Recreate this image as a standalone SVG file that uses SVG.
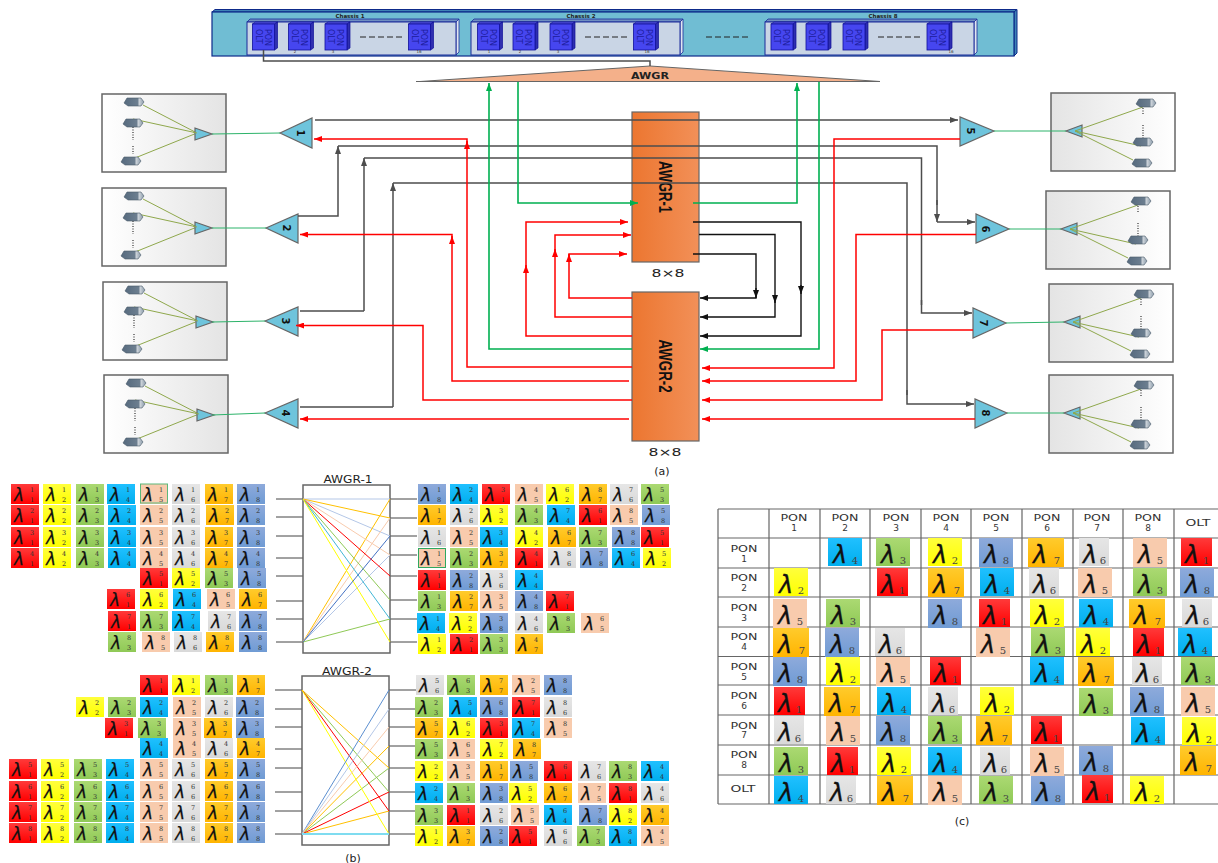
<svg xmlns="http://www.w3.org/2000/svg" width="1218" height="863" viewBox="0 0 1218 863">
<style>
svg{background:#fff}
text{font-family:"DejaVu Sans","Liberation Sans",sans-serif}
.f1{fill:url(#g1)}.f2{fill:url(#g2)}.f3{fill:url(#g3)}.f4{fill:url(#g4)}.f5{fill:#f8cbad}.f6{fill:url(#g6)}.f7{fill:url(#g7)}.f8{fill:url(#g8)}
.la{font-family:"DejaVu Sans",sans-serif;font-style:oblique;font-size:17px;fill:#111;stroke:#111;stroke-width:.25}
.lb{font-family:"DejaVu Sans",sans-serif;font-style:oblique;font-size:24px;fill:#111;stroke:#111;stroke-width:.3}
.cells text{font-family:"DejaVu Serif",serif;font-size:6.5px;text-anchor:middle;fill:#333}
.tb text{font-size:9px;text-anchor:middle;fill:#333}
.tb .s{font-family:"DejaVu Serif",serif;font-size:10px;fill:#444}
.gr,.re,.bk,.gn,.tl{fill:none}
.gr{stroke:#4d4d4d;stroke-width:1.5}
.re{stroke:#f00;stroke-width:1.5}
.bk{stroke:#111;stroke-width:1.4}
.gn{stroke:#00b050;stroke-width:1.6}
.tl{stroke:#2db36a;stroke-width:1}
.tri{fill:#6ec4dc;stroke:#666;stroke-width:1.2}
.awg{fill:url(#og);stroke:#666;stroke-width:1.2}
.cap{font-size:11px;text-anchor:middle;fill:#222}
.tnum{font-size:10px;font-weight:bold;text-anchor:middle;fill:#111}
.blab{font-family:"Liberation Sans",sans-serif;font-size:19px;font-weight:bold;text-anchor:middle;fill:#111}
.stub{stroke:#444;stroke-width:1;fill:none}
.rt{fill:#fff;stroke:#666;stroke-width:1.5}
.rl{fill:none;stroke-width:1}
.sm{font-size:4px;text-anchor:middle;fill:#333}
.ch{font-size:5.5px;font-weight:bold;text-anchor:middle;fill:#222}
.da{stroke:#222;stroke-width:1;stroke-dasharray:6 3}
</style>
<defs>
<linearGradient id="g1" x2="0" y2="1"><stop offset="0" stop-color="#ff3a3a"/><stop offset="1" stop-color="#f00"/></linearGradient>
<linearGradient id="g2" x2="0" y2="1"><stop offset="0" stop-color="#ffff3c"/><stop offset="1" stop-color="#ff0"/></linearGradient>
<linearGradient id="g3" x2="0" y2="1"><stop offset="0" stop-color="#abd972"/><stop offset="1" stop-color="#8fc956"/></linearGradient>
<linearGradient id="g4" x2="0" y2="1"><stop offset="0" stop-color="#20c0ff"/><stop offset="1" stop-color="#00aeee"/></linearGradient>
<linearGradient id="g6" x2="0" y2="1"><stop offset="0" stop-color="#e6e6e6"/><stop offset="1" stop-color="#d9d9d9"/></linearGradient>
<linearGradient id="g7" x2="0" y2="1"><stop offset="0" stop-color="#ffcb2c"/><stop offset="1" stop-color="#ffb400"/></linearGradient>
<linearGradient id="g8" x2="0" y2="1"><stop offset="0" stop-color="#8eaadb"/><stop offset="1" stop-color="#6f9bd4"/></linearGradient>
<linearGradient id="og"><stop offset="0" stop-color="#ec7630"/><stop offset="1" stop-color="#f29058"/></linearGradient>
<linearGradient id="bl"><stop offset="0" stop-color="#fff"/><stop offset="1" stop-color="#e4e4e4"/></linearGradient>
<linearGradient id="br"><stop offset="0" stop-color="#e4e4e4"/><stop offset="1" stop-color="#fff"/></linearGradient>
<linearGradient id="on"><stop offset="0" stop-color="#566a7e"/><stop offset=".7" stop-color="#6d7f90"/><stop offset=".75" stop-color="#d0d6dc"/><stop offset="1" stop-color="#8899a8"/></linearGradient>
<marker id="mr" viewBox="0 0 8 6" refX="8" refY="3" markerWidth="8" markerHeight="6" orient="auto" markerUnits="userSpaceOnUse"><path d="M0 0L8 3L0 6z" fill="#f00"/></marker>
<marker id="mg" viewBox="0 0 8 6" refX="8" refY="3" markerWidth="8" markerHeight="6.500" orient="auto" markerUnits="userSpaceOnUse"><path d="M0 0L8 3L0 6z" fill="#4d4d4d"/></marker>
<marker id="mk" viewBox="0 0 8 6" refX="8" refY="3" markerWidth="8" markerHeight="6.500" orient="auto" markerUnits="userSpaceOnUse"><path d="M0 0L8 3L0 6z" fill="#111"/></marker>
<marker id="mn" viewBox="0 0 8 6" refX="8" refY="3" markerWidth="8" markerHeight="6.500" orient="auto" markerUnits="userSpaceOnUse"><path d="M0 0L8 3L0 6z" fill="#00b050"/></marker>
<g id="k1"><rect class="f1" width="28" height="20"/><text class="la" x="3" y="17">λ</text></g>
<g id="k2"><rect class="f2" width="28" height="20"/><text class="la" x="3" y="17">λ</text></g>
<g id="k3"><rect class="f3" width="28" height="20"/><text class="la" x="3" y="17">λ</text></g>
<g id="k4"><rect class="f4" width="28" height="20"/><text class="la" x="3" y="17">λ</text></g>
<g id="k5"><rect class="f5" width="28" height="20"/><text class="la" x="3" y="17">λ</text></g>
<g id="k6"><rect class="f6" width="28" height="20"/><text class="la" x="3" y="17">λ</text></g>
<g id="k7"><rect class="f7" width="28" height="20"/><text class="la" x="3" y="17">λ</text></g>
<g id="k8"><rect class="f8" width="28" height="20"/><text class="la" x="3" y="17">λ</text></g>
<g id="t1"><rect class="f1" width="31" height="28"/><text class="lb" x="4" y="25">λ</text></g>
<g id="t2"><rect class="f2" width="34" height="28"/><text class="lb" x="5" y="25">λ</text></g>
<g id="t3"><rect class="f3" width="34" height="28"/><text class="lb" x="5" y="25">λ</text></g>
<g id="t4"><rect class="f4" width="34" height="28"/><text class="lb" x="5" y="25">λ</text></g>
<g id="t5"><rect class="f5" width="34" height="29"/><text class="lb" x="5" y="25">λ</text></g>
<g id="t6"><rect class="f6" width="30" height="28"/><text class="lb" x="4" y="25">λ</text></g>
<g id="t7"><rect class="f7" width="36" height="29"/><text class="lb" x="5" y="25">λ</text></g>
<g id="t8"><rect class="f8" width="34" height="29"/><text class="lb" x="5" y="25">λ</text></g>
<g id="onu"><path d="M-10 1L-7-4H7L10 0L7 4H-6z" fill="url(#on)" stroke="#4a5a6a" stroke-width=".6"/></g>
<g id="boxL"><rect width="124" height="78" fill="url(#bl)" stroke="#666" stroke-width="1.5"/><path d="M41 11L95 39M31 25L95 39M33 64L95 39" stroke="#8fa84c" fill="none"/><path d="M31 33V46M31 52V60" stroke="#333" stroke-width="1.2" stroke-dasharray="1 1.5"/><use href="#onu" x="32" y="8"/><use href="#onu" x="31" y="29"/><use href="#onu" x="29" y="67"/><path class="tri" d="M93 34V46L110 40z" stroke-width="1"/><path d="M95 39L91 38" stroke="#8fa84c"/></g>
<g id="boxR"><rect width="124" height="78" fill="url(#br)" stroke="#666" stroke-width="1.5"/><path class="tri" d="M31 32V44L15 38z" stroke-width="1"/><path d="M24 38L92 14M24 38L90 53M24 38L82 67" stroke="#8fa84c" fill="none"/><path d="M92 15V22M92 32V46" stroke="#333" stroke-width="1.2" stroke-dasharray="1 1.5"/><use href="#onu" x="95" y="10"/><use href="#onu" x="92" y="49"/><use href="#onu" x="91" y="70"/></g>
<g id="blade"><path d="M0 2L3 0H25L22 2z" fill="#5a5ae0" stroke="#10109a" stroke-width=".7"/><path d="M22 2L25 0V26L22 28z" fill="#2f2fb0" stroke="#10109a" stroke-width=".7"/><rect y="2" width="22" height="26" fill="#4646f0" stroke="#10109a" stroke-width=".8"/><text transform="translate(3,7) rotate(90)" font-size="8" fill="#1c1c9c">OLT</text><text transform="translate(12,7) rotate(90)" font-size="8" fill="#1c1c9c">PON</text></g>
<g id="chassis"><path d="M0 3L3 0H212L209 3z" fill="#6f8fc0" stroke="#1a2a9a" stroke-width=".8"/><path d="M209 3L212 0V33L209 36z" fill="#dfe7f0" stroke="#1a2a9a" stroke-width=".8"/><rect y="3" width="209" height="33" fill="#c9d5e5" stroke="#1a2a9a" stroke-width="1"/></g>
</defs>
<g id="rack">
<path d="M212 12L215 9.500H1017L1014 12z" fill="#3f83b5" stroke="#0d2a8a"/><path d="M1014 12L1017 9.500V53L1014 56z" fill="#3f83b5" stroke="#0d2a8a"/>
<rect x="212" y="12" width="802" height="44" fill="#70bdd3" stroke="#0d2a8a" stroke-width="1.200"/>
<use href="#chassis" x="247" y="19"/><use href="#chassis" x="471" y="19"/><use href="#chassis" x="765" y="19"/>
<text class="ch" x="350" y="17.500">Chassis 1</text><text class="ch" x="581" y="17.500">Chassis 2</text><text class="ch" x="883" y="17.500">Chassis 8</text>
<use href="#blade" x="252.500" y="22"/><use href="#blade" x="288.500" y="22"/><use href="#blade" x="325" y="22"/><use href="#blade" x="408.500" y="22"/>
<use href="#blade" x="477.500" y="22"/><use href="#blade" x="513" y="22"/><use href="#blade" x="550" y="22"/><use href="#blade" x="633.500" y="22"/>
<use href="#blade" x="771" y="22"/><use href="#blade" x="806" y="22"/><use href="#blade" x="843" y="22"/><use href="#blade" x="927" y="22"/>
<text class="sm" x="295" y="53">2</text><text class="sm" x="333" y="53">3</text><text class="sm" x="419" y="53">16</text><text class="sm" x="489" y="53">1</text><text class="sm" x="520" y="53">2</text><text class="sm" x="558" y="53">3</text><text class="sm" x="647" y="53">16</text><text class="sm" x="951" y="53">16</text>
<path class="da" d="M360 37H403M585 37H628M706 37H749M878 37H921"/>
</g>
<g id="awgr-top"><path d="M420 81.500L650 66L880 81.500z" fill="#f4b08a"/><path d="M416 81.500H880L650 66L420 81.500" fill="none" stroke="#666"/><text x="650" y="79" font-size="9" font-weight="bold" text-anchor="middle" fill="#222" textLength="38" lengthAdjust="spacingAndGlyphs">AWGR</text></g>
<g id="awgr-1"><rect class="awg" x="632" y="112" width="67" height="150"/><text class="blab" transform="translate(659,187) rotate(90)" textLength="52" lengthAdjust="spacingAndGlyphs">AWGR-1</text><text class="cap" x="668" y="277" font-size="12" textLength="33" lengthAdjust="spacingAndGlyphs">8×8</text></g>
<g id="awgr-2"><rect class="awg" x="632" y="292" width="67" height="149"/><text class="blab" transform="translate(659,366) rotate(90)" textLength="53" lengthAdjust="spacingAndGlyphs">AWGR-2</text><text class="cap" x="665" y="456" textLength="33" lengthAdjust="spacingAndGlyphs">8×8</text></g>
<g id="pon-1"><use href="#boxL" x="102" y="94"/><path class="tri" d="M280 133L312 118V148z"/><text class="tnum" transform="translate(297,133) rotate(90)">1</text></g>
<g id="pon-2"><use href="#boxL" x="102" y="188"/><path class="tri" d="M266 228L298 214V243z"/><text class="tnum" transform="translate(283,228) rotate(90)">2</text></g>
<g id="pon-3"><use href="#boxL" x="103" y="282"/><path class="tri" d="M265 321L298 307V336z"/><text class="tnum" transform="translate(282,321) rotate(90)">3</text></g>
<g id="pon-4"><use href="#boxL" x="104" y="375"/><path class="tri" d="M265 413L298 399V428z"/><text class="tnum" transform="translate(282,413) rotate(90)">4</text></g>
<g id="pon-5"><use href="#boxR" x="1051" y="93"/><path class="tri" d="M960 117V146L994 131z"/><text class="tnum" transform="translate(967,131) rotate(90)">5</text></g>
<g id="pon-6"><use href="#boxR" x="1046" y="191"/><path class="tri" d="M976 214V243L1009 229z"/><text class="tnum" transform="translate(982,229) rotate(90)">6</text></g>
<g id="pon-7"><use href="#boxR" x="1049" y="284"/><path class="tri" d="M973 308V338L1006 323z"/><text class="tnum" transform="translate(980,323) rotate(90)">7</text></g>
<g id="pon-8"><use href="#boxR" x="1049" y="375"/><path class="tri" d="M975 399V428L1007 413z"/><text class="tnum" transform="translate(982,413) rotate(90)">8</text></g>
<g id="connectors">
<path class="gr" d="M263.500 50V61H650V66" stroke-width="1"/>
<path class="tl" d="M212 134L280 133M212 228H266M212 322L265 321M212 415L265 413M994 131H1066M1009 229H1061M1006 323L1064 322M1007 413H1064"/>
<g class="gr" marker-end="url(#mg)"><path d="M315 120H958"/><path d="M298 216H338V146"/><path d="M364 311V158" /><path d="M393 407V183"/><path d="M937 200V222"/><path d="M937 222H975"/><path d="M921.500 300V313H972"/><path d="M907 390V404H974"/></g>
<path class="gr" d="M338 146H937V205M364 158H921.500V305M393 183H907V395M300 311H364M300 407H393"/>
<g class="bk" marker-end="url(#mk)"><path d="M693 222H801V336H700"/><path d="M699 234.500H775V317H700"/><path d="M693 254H756V298H700"/><path d="M801 285V294"/><path d="M775 295V303"/><path d="M756 288V298"/></g>
<g class="re" marker-end="url(#mr)"><path d="M632 367H467V139H314"/><path d="M629 381H452V234.500H300"/><path d="M632 400H423V325.500H296"/><path d="M629 419H300"/><path d="M632 298H569V254H627"/><path d="M632 317H555V235H631"/><path d="M632 336H526V222H628"/><path d="M467 145V141"/><path d="M452 240V236"/><path d="M569 262V254"/><path d="M555 257V249"/><path d="M526 272V265"/><path d="M960 139H834V368H702"/><path d="M976 234.500H856V381H702"/><path d="M973 330H882V400H702"/><path d="M975 419H702"/></g>
<g class="gn" marker-end="url(#mn)"><path d="M632 349H489V83"/><path d="M518 82V203H638"/><path d="M693 203H797V83"/><path d="M819 82V349H700"/></g>
</g>
<g id="awgr-1-routing">
<text class="cap" x="348" y="483" textLength="49" lengthAdjust="spacingAndGlyphs">AWGR-1</text>
<path class="stub" d="M276 499H303M276 517H303M276 536H303M276 558H303M276 576H303M276 601H303M276 619H303M276 642H303M390 499H417M390 518H417M390 536H417M390 555H417M390 576H417M390 600H417M390 619H417M390 642H417"/>
<rect class="rt" x="303" y="485" width="87" height="168"/>
<g class="rl"><path stroke="#b4c7e7" d="M303 499H390M303 499L390 536M303 642L390 555"/><path stroke="#ffc000" d="M303 499L390 518M303 642L390 499"/><path stroke="#f8cbad" d="M303 499L390 555M303 642L390 518"/><path stroke="#f00" d="M303 499L390 576"/><path stroke="#8fc956" d="M303 499L390 600M303 642L390 619"/><path stroke="#41b6d6" d="M303 499L390 619"/><path stroke="#ff0" d="M303 499L390 642"/><path stroke="#4472c4" d="M303 642L390 536"/></g>
</g>
<g id="awgr-2-routing">
<text class="cap" x="347" y="675" textLength="50" lengthAdjust="spacingAndGlyphs">AWGR-2</text>
<path class="stub" d="M275 690H302M275 709H302M275 727H302M275 749H302M275 768H302M275 792H302M275 811H302M275 834H302M389 690H416M389 709H416M389 727H416M389 746H416M389 768H416M389 792H416M389 811H416M389 834H416"/>
<rect class="rt" x="302" y="676" width="87" height="169"/>
<g class="rl"><path stroke="#ffc000" d="M302 690L389 768M302 834L389 746M302 834L389 811"/><path stroke="#8fc956" d="M302 690L389 792M302 834L389 768"/><path stroke="#f00" d="M302 690L389 811M302 834L389 792"/><path stroke="#ff0" d="M302 690L389 834"/><path stroke="#5b8fd0" d="M302 834L389 690"/><path stroke="#b4c7e7" d="M302 834L389 709"/><path stroke="#f8cbad" d="M302 834L389 727"/><path stroke="#7fdcf0" stroke-width="2" d="M302 834H389"/></g>
</g>
<g id="wavelengths" class="cells">
<use href="#k1" x="11" y="484"/><text x="32" y="492">1</text><text x="32" y="502">1</text>
<use href="#k2" x="43" y="484"/><text x="64" y="492">1</text><text x="64" y="502">2</text>
<use href="#k3" x="76" y="484"/><text x="97" y="492">1</text><text x="97" y="502">3</text>
<use href="#k4" x="107" y="484"/><text x="128" y="492">1</text><text x="128" y="502">4</text>
<use href="#k5" x="140" y="484"/><rect x="140.500" y="484" width="27" height="19" fill="none" stroke="#5cb87a"/><text x="161" y="492">1</text><text x="161" y="502">5</text>
<use href="#k6" x="172" y="484"/><text x="193" y="492">1</text><text x="193" y="502">6</text>
<use href="#k7" x="205" y="484"/><text x="226" y="492">1</text><text x="226" y="502">7</text>
<use href="#k8" x="237" y="484"/><text x="258" y="492">1</text><text x="258" y="502">8</text>
<use href="#k1" x="11" y="505"/><text x="32" y="513">2</text><text x="32" y="523">1</text>
<use href="#k2" x="43" y="505"/><text x="64" y="513">2</text><text x="64" y="523">2</text>
<use href="#k3" x="76" y="505"/><text x="97" y="513">2</text><text x="97" y="523">3</text>
<use href="#k4" x="108" y="505"/><text x="129" y="513">2</text><text x="129" y="523">4</text>
<use href="#k5" x="140" y="505"/><text x="161" y="513">2</text><text x="161" y="523">5</text>
<use href="#k6" x="172" y="505"/><text x="193" y="513">2</text><text x="193" y="523">6</text>
<use href="#k7" x="206" y="505"/><text x="227" y="513">2</text><text x="227" y="523">7</text>
<use href="#k8" x="237" y="505"/><text x="258" y="513">2</text><text x="258" y="523">8</text>
<use href="#k1" x="11" y="527"/><text x="32" y="535">3</text><text x="32" y="545">1</text>
<use href="#k2" x="43" y="527"/><text x="64" y="535">3</text><text x="64" y="545">2</text>
<use href="#k3" x="76" y="527"/><text x="97" y="535">3</text><text x="97" y="545">3</text>
<use href="#k4" x="108" y="527"/><text x="129" y="535">3</text><text x="129" y="545">4</text>
<use href="#k5" x="140" y="527"/><text x="161" y="535">3</text><text x="161" y="545">5</text>
<use href="#k6" x="172" y="527"/><text x="193" y="535">3</text><text x="193" y="545">6</text>
<use href="#k7" x="205" y="527"/><text x="226" y="535">3</text><text x="226" y="545">7</text>
<use href="#k8" x="237" y="527"/><text x="258" y="535">3</text><text x="258" y="545">8</text>
<use href="#k1" x="11" y="548"/><text x="32" y="556">4</text><text x="32" y="566">1</text>
<use href="#k2" x="43" y="548"/><text x="64" y="556">4</text><text x="64" y="566">2</text>
<use href="#k3" x="76" y="548"/><text x="97" y="556">4</text><text x="97" y="566">3</text>
<use href="#k4" x="108" y="548"/><text x="129" y="556">4</text><text x="129" y="566">4</text>
<use href="#k5" x="140" y="548"/><text x="161" y="556">4</text><text x="161" y="566">5</text>
<use href="#k6" x="172" y="548"/><text x="193" y="556">4</text><text x="193" y="566">6</text>
<use href="#k7" x="205" y="548"/><text x="226" y="556">4</text><text x="226" y="566">7</text>
<use href="#k8" x="237" y="548"/><text x="258" y="556">4</text><text x="258" y="566">8</text>
<use href="#k1" x="140" y="568"/><text x="161" y="576">5</text><text x="161" y="586">1</text>
<use href="#k2" x="172" y="568"/><text x="193" y="576">5</text><text x="193" y="586">2</text>
<use href="#k3" x="205" y="568"/><text x="226" y="576">5</text><text x="226" y="586">3</text>
<use href="#k8" x="238" y="568"/><text x="259" y="576">5</text><text x="259" y="586">8</text>
<use href="#k1" x="107" y="589"/><text x="128" y="597">6</text><text x="128" y="607">1</text>
<use href="#k2" x="140" y="589"/><text x="161" y="597">6</text><text x="161" y="607">2</text>
<use href="#k4" x="173" y="589"/><text x="194" y="597">6</text><text x="194" y="607">4</text>
<use href="#k5" x="207" y="589"/><text x="228" y="597">6</text><text x="228" y="607">5</text>
<use href="#k7" x="239" y="589"/><text x="260" y="597">6</text><text x="260" y="607">7</text>
<use href="#k1" x="108" y="611"/><text x="129" y="619">7</text><text x="129" y="629">1</text>
<use href="#k3" x="140" y="611"/><text x="161" y="619">7</text><text x="161" y="629">3</text>
<use href="#k4" x="172" y="611"/><text x="193" y="619">7</text><text x="193" y="629">4</text>
<use href="#k6" x="208" y="611"/><text x="229" y="619">7</text><text x="229" y="629">6</text>
<use href="#k8" x="239" y="611"/><text x="260" y="619">7</text><text x="260" y="629">8</text>
<use href="#k3" x="108" y="632"/><text x="129" y="640">8</text><text x="129" y="650">3</text>
<use href="#k5" x="142" y="632"/><text x="163" y="640">8</text><text x="163" y="650">5</text>
<use href="#k6" x="174" y="632"/><text x="195" y="640">8</text><text x="195" y="650">6</text>
<use href="#k7" x="206" y="632"/><text x="227" y="640">8</text><text x="227" y="650">7</text>
<use href="#k8" x="239" y="632"/><text x="260" y="640">8</text><text x="260" y="650">8</text>

<use href="#k8" x="418" y="484"/><text x="439" y="492">1</text><text x="439" y="502">8</text>
<use href="#k4" x="450" y="484"/><text x="471" y="492">2</text><text x="471" y="502">4</text>
<use href="#k1" x="482" y="484"/><text x="503" y="492">3</text><text x="503" y="502">1</text>
<use href="#k5" x="515" y="484"/><text x="536" y="492">4</text><text x="536" y="502">5</text>
<use href="#k2" x="546" y="484"/><text x="567" y="492">6</text><text x="567" y="502">2</text>
<use href="#k7" x="579" y="484"/><text x="600" y="492">8</text><text x="600" y="502">7</text>
<use href="#k6" x="610" y="484"/><text x="631" y="492">7</text><text x="631" y="502">6</text>
<use href="#k3" x="641" y="484"/><text x="662" y="492">5</text><text x="662" y="502">3</text>
<use href="#k7" x="418" y="505"/><text x="439" y="513">1</text><text x="439" y="523">7</text>
<use href="#k6" x="450" y="505"/><text x="471" y="513">2</text><text x="471" y="523">6</text>
<use href="#k2" x="480" y="505"/><text x="501" y="513">3</text><text x="501" y="523">2</text>
<use href="#k3" x="515" y="505"/><text x="536" y="513">4</text><text x="536" y="523">3</text>
<use href="#k4" x="547" y="505"/><text x="568" y="513">7</text><text x="568" y="523">4</text>
<use href="#k1" x="579" y="505"/><text x="600" y="513">6</text><text x="600" y="523">1</text>
<use href="#k5" x="610" y="505"/><text x="631" y="513">8</text><text x="631" y="523">5</text>
<use href="#k8" x="642" y="505"/><text x="663" y="513">5</text><text x="663" y="523">8</text>
<use href="#k6" x="418" y="527"/><text x="439" y="535">1</text><text x="439" y="545">6</text>
<use href="#k5" x="450" y="527"/><text x="471" y="535">2</text><text x="471" y="545">5</text>
<use href="#k4" x="480" y="527"/><text x="501" y="535">3</text><text x="501" y="545">4</text>
<use href="#k2" x="515" y="527"/><text x="536" y="535">4</text><text x="536" y="545">2</text>
<use href="#k7" x="548" y="527"/><text x="569" y="535">6</text><text x="569" y="545">7</text>
<use href="#k3" x="579" y="527"/><text x="600" y="535">7</text><text x="600" y="545">3</text>
<use href="#k8" x="612" y="527"/><text x="633" y="535">8</text><text x="633" y="545">8</text>
<use href="#k1" x="641" y="527"/><text x="662" y="535">5</text><text x="662" y="545">1</text>
<use href="#k5" x="418" y="548"/><rect x="418.500" y="548.500" width="27" height="19" fill="none" stroke="#2fa860"/><text x="439" y="556">1</text><text x="439" y="566">5</text>
<use href="#k3" x="450" y="548"/><text x="471" y="556">2</text><text x="471" y="566">3</text>
<use href="#k7" x="480" y="548"/><text x="501" y="556">3</text><text x="501" y="566">7</text>
<use href="#k1" x="515" y="548"/><text x="536" y="556">4</text><text x="536" y="566">1</text>
<use href="#k6" x="548" y="548"/><text x="569" y="556">8</text><text x="569" y="566">6</text>
<use href="#k8" x="580" y="548"/><text x="601" y="556">7</text><text x="601" y="566">8</text>
<use href="#k4" x="612" y="548"/><text x="633" y="556">6</text><text x="633" y="566">4</text>
<use href="#k2" x="643" y="548"/><text x="664" y="556">5</text><text x="664" y="566">2</text>
<use href="#k1" x="418" y="570"/><text x="439" y="578">1</text><text x="439" y="588">1</text>
<use href="#k8" x="450" y="570"/><text x="471" y="578">2</text><text x="471" y="588">8</text>
<use href="#k6" x="480" y="570"/><text x="501" y="578">3</text><text x="501" y="588">6</text>
<use href="#k4" x="515" y="570"/><text x="536" y="578">4</text><text x="536" y="588">4</text>
<use href="#k3" x="418" y="591"/><text x="439" y="599">1</text><text x="439" y="609">3</text>
<use href="#k7" x="450" y="591"/><text x="471" y="599">2</text><text x="471" y="609">7</text>
<use href="#k5" x="480" y="591"/><text x="501" y="599">3</text><text x="501" y="609">5</text>
<use href="#k8" x="515" y="591"/><text x="536" y="599">4</text><text x="536" y="609">8</text>
<use href="#k1" x="546" y="591"/><text x="567" y="599">7</text><text x="567" y="609">1</text>
<use href="#k4" x="417" y="613"/><text x="438" y="621">1</text><text x="438" y="631">4</text>
<use href="#k2" x="449" y="613"/><text x="470" y="621">2</text><text x="470" y="631">2</text>
<use href="#k8" x="480" y="613"/><text x="501" y="621">3</text><text x="501" y="631">8</text>
<use href="#k6" x="515" y="613"/><text x="536" y="621">4</text><text x="536" y="631">6</text>
<use href="#k3" x="547" y="613"/><text x="568" y="621">8</text><text x="568" y="631">3</text>
<use href="#k5" x="581" y="613"/><text x="602" y="621">6</text><text x="602" y="631">5</text>
<use href="#k2" x="418" y="634"/><text x="439" y="642">1</text><text x="439" y="652">2</text>
<use href="#k1" x="450" y="634"/><text x="471" y="642">2</text><text x="471" y="652">1</text>
<use href="#k3" x="480" y="634"/><text x="501" y="642">3</text><text x="501" y="652">3</text>
<use href="#k7" x="515" y="634"/><text x="536" y="642">4</text><text x="536" y="652">7</text>

<use href="#k1" x="140" y="675"/><text x="161" y="683">1</text><text x="161" y="693">1</text>
<use href="#k2" x="172" y="675"/><text x="193" y="683">1</text><text x="193" y="693">2</text>
<use href="#k3" x="205" y="675"/><text x="226" y="683">1</text><text x="226" y="693">3</text>
<use href="#k7" x="237" y="675"/><text x="258" y="683">1</text><text x="258" y="693">7</text>
<use href="#k2" x="76" y="697"/><text x="97" y="705">2</text><text x="97" y="715">2</text>
<use href="#k3" x="108" y="697"/><text x="129" y="705">2</text><text x="129" y="715">3</text>
<use href="#k4" x="140" y="697"/><text x="161" y="705">2</text><text x="161" y="715">4</text>
<use href="#k5" x="173" y="697"/><text x="194" y="705">2</text><text x="194" y="715">5</text>
<use href="#k6" x="205" y="697"/><text x="226" y="705">2</text><text x="226" y="715">6</text>
<use href="#k8" x="236" y="697"/><text x="257" y="705">2</text><text x="257" y="715">8</text>
<use href="#k1" x="105" y="718"/><text x="126" y="726">3</text><text x="126" y="736">1</text>
<use href="#k3" x="138" y="718"/><text x="159" y="726">3</text><text x="159" y="736">3</text>
<use href="#k5" x="173" y="718"/><text x="194" y="726">3</text><text x="194" y="736">5</text>
<use href="#k7" x="204" y="718"/><text x="225" y="726">3</text><text x="225" y="736">7</text>
<use href="#k8" x="236" y="718"/><text x="257" y="726">3</text><text x="257" y="736">8</text>
<use href="#k4" x="140" y="738"/><text x="161" y="746">4</text><text x="161" y="756">4</text>
<use href="#k5" x="173" y="738"/><text x="194" y="746">4</text><text x="194" y="756">5</text>
<use href="#k6" x="205" y="738"/><text x="226" y="746">4</text><text x="226" y="756">6</text>
<use href="#k7" x="237" y="738"/><text x="258" y="746">4</text><text x="258" y="756">7</text>
<use href="#k1" x="9" y="759"/><text x="30" y="767">5</text><text x="30" y="777">1</text>
<use href="#k2" x="41" y="759"/><text x="62" y="767">5</text><text x="62" y="777">2</text>
<use href="#k3" x="74" y="759"/><text x="95" y="767">5</text><text x="95" y="777">3</text>
<use href="#k4" x="106" y="759"/><text x="127" y="767">5</text><text x="127" y="777">4</text>
<use href="#k5" x="140" y="759"/><text x="161" y="767">5</text><text x="161" y="777">5</text>
<use href="#k6" x="172" y="759"/><text x="193" y="767">5</text><text x="193" y="777">6</text>
<use href="#k7" x="205" y="759"/><text x="226" y="767">5</text><text x="226" y="777">7</text>
<use href="#k8" x="237" y="759"/><text x="258" y="767">5</text><text x="258" y="777">8</text>
<use href="#k1" x="9" y="781"/><text x="30" y="789">6</text><text x="30" y="799">1</text>
<use href="#k2" x="41" y="781"/><text x="62" y="789">6</text><text x="62" y="799">2</text>
<use href="#k3" x="74" y="781"/><text x="95" y="789">6</text><text x="95" y="799">3</text>
<use href="#k4" x="106" y="781"/><text x="127" y="789">6</text><text x="127" y="799">4</text>
<use href="#k5" x="140" y="781"/><text x="161" y="789">6</text><text x="161" y="799">5</text>
<use href="#k6" x="172" y="781"/><text x="193" y="789">6</text><text x="193" y="799">6</text>
<use href="#k7" x="205" y="781"/><text x="226" y="789">6</text><text x="226" y="799">7</text>
<use href="#k8" x="237" y="781"/><text x="258" y="789">6</text><text x="258" y="799">8</text>
<use href="#k1" x="9" y="802"/><text x="30" y="810">7</text><text x="30" y="820">1</text>
<use href="#k2" x="41" y="802"/><text x="62" y="810">7</text><text x="62" y="820">2</text>
<use href="#k3" x="74" y="802"/><text x="95" y="810">7</text><text x="95" y="820">3</text>
<use href="#k4" x="106" y="802"/><text x="127" y="810">7</text><text x="127" y="820">4</text>
<use href="#k5" x="140" y="802"/><text x="161" y="810">7</text><text x="161" y="820">5</text>
<use href="#k6" x="172" y="802"/><text x="193" y="810">7</text><text x="193" y="820">6</text>
<use href="#k7" x="205" y="802"/><text x="226" y="810">7</text><text x="226" y="820">7</text>
<use href="#k8" x="237" y="802"/><text x="258" y="810">7</text><text x="258" y="820">8</text>
<use href="#k1" x="9" y="823"/><text x="30" y="831">8</text><text x="30" y="841">1</text>
<use href="#k2" x="41" y="823"/><text x="62" y="831">8</text><text x="62" y="841">2</text>
<use href="#k3" x="74" y="823"/><text x="95" y="831">8</text><text x="95" y="841">3</text>
<use href="#k4" x="106" y="823"/><text x="127" y="831">8</text><text x="127" y="841">4</text>
<use href="#k5" x="140" y="823"/><text x="161" y="831">8</text><text x="161" y="841">5</text>
<use href="#k6" x="172" y="823"/><text x="193" y="831">8</text><text x="193" y="841">6</text>
<use href="#k7" x="205" y="823"/><text x="226" y="831">8</text><text x="226" y="841">7</text>
<use href="#k8" x="237" y="823"/><text x="258" y="831">8</text><text x="258" y="841">8</text>

<use href="#k6" x="416" y="675"/><text x="437" y="683">5</text><text x="437" y="693">6</text>
<use href="#k3" x="447" y="675"/><text x="468" y="683">6</text><text x="468" y="693">3</text>
<use href="#k7" x="480" y="675"/><text x="501" y="683">7</text><text x="501" y="693">7</text>
<use href="#k5" x="512" y="675"/><text x="533" y="683">2</text><text x="533" y="693">5</text>
<use href="#k8" x="544" y="675"/><text x="565" y="683">8</text><text x="565" y="693">8</text>
<use href="#k3" x="415" y="697"/><text x="436" y="705">2</text><text x="436" y="715">3</text>
<use href="#k4" x="449" y="697"/><text x="470" y="705">5</text><text x="470" y="715">4</text>
<use href="#k8" x="480" y="697"/><text x="501" y="705">6</text><text x="501" y="715">8</text>
<use href="#k1" x="512" y="697"/><text x="533" y="705">7</text><text x="533" y="715">1</text>
<use href="#k6" x="544" y="697"/><text x="565" y="705">8</text><text x="565" y="715">6</text>
<use href="#k7" x="415" y="718"/><text x="436" y="726">5</text><text x="436" y="736">7</text>
<use href="#k2" x="447" y="718"/><text x="468" y="726">6</text><text x="468" y="736">2</text>
<use href="#k1" x="480" y="718"/><text x="501" y="726">3</text><text x="501" y="736">1</text>
<use href="#k4" x="512" y="718"/><text x="533" y="726">7</text><text x="533" y="736">4</text>
<use href="#k5" x="544" y="718"/><text x="565" y="726">8</text><text x="565" y="736">5</text>
<use href="#k3" x="415" y="739"/><text x="436" y="747">5</text><text x="436" y="757">3</text>
<use href="#k5" x="447" y="739"/><text x="468" y="747">6</text><text x="468" y="757">5</text>
<use href="#k2" x="480" y="739"/><text x="501" y="747">7</text><text x="501" y="757">2</text>
<use href="#k7" x="513" y="739"/><text x="534" y="747">8</text><text x="534" y="757">7</text>
<use href="#k2" x="415" y="761"/><text x="436" y="769">2</text><text x="436" y="779">2</text>
<use href="#k5" x="447" y="761"/><text x="468" y="769">3</text><text x="468" y="779">5</text>
<use href="#k7" x="480" y="761"/><text x="501" y="769">1</text><text x="501" y="779">7</text>
<use href="#k8" x="510" y="761"/><text x="531" y="769">5</text><text x="531" y="779">8</text>
<use href="#k1" x="544" y="761"/><text x="565" y="769">6</text><text x="565" y="779">1</text>
<use href="#k6" x="578" y="761"/><text x="599" y="769">7</text><text x="599" y="779">6</text>
<use href="#k3" x="609" y="761"/><text x="630" y="769">8</text><text x="630" y="779">3</text>
<use href="#k4" x="641" y="761"/><text x="662" y="769">4</text><text x="662" y="779">4</text>
<use href="#k4" x="415" y="783"/><text x="436" y="791">2</text><text x="436" y="801">4</text>
<use href="#k3" x="447" y="783"/><text x="468" y="791">1</text><text x="468" y="801">3</text>
<use href="#k8" x="480" y="783"/><text x="501" y="791">3</text><text x="501" y="801">8</text>
<use href="#k2" x="509" y="783"/><text x="530" y="791">5</text><text x="530" y="801">2</text>
<use href="#k7" x="544" y="783"/><text x="565" y="791">6</text><text x="565" y="801">7</text>
<use href="#k5" x="578" y="783"/><text x="599" y="791">7</text><text x="599" y="801">5</text>
<use href="#k1" x="609" y="783"/><text x="630" y="791">8</text><text x="630" y="801">1</text>
<use href="#k6" x="641" y="783"/><text x="662" y="791">4</text><text x="662" y="801">6</text>
<use href="#k3" x="415" y="805"/><text x="436" y="813">3</text><text x="436" y="823">3</text>
<use href="#k1" x="447" y="805"/><text x="468" y="813">1</text><text x="468" y="823">1</text>
<use href="#k6" x="480" y="805"/><text x="501" y="813">2</text><text x="501" y="823">6</text>
<use href="#k5" x="511" y="805"/><text x="532" y="813">5</text><text x="532" y="823">5</text>
<use href="#k4" x="544" y="805"/><text x="565" y="813">6</text><text x="565" y="823">4</text>
<use href="#k8" x="579" y="805"/><text x="600" y="813">7</text><text x="600" y="823">8</text>
<use href="#k2" x="609" y="805"/><text x="630" y="813">8</text><text x="630" y="823">2</text>
<use href="#k7" x="641" y="805"/><text x="662" y="813">4</text><text x="662" y="823">7</text>
<use href="#k2" x="415" y="826"/><text x="436" y="834">1</text><text x="436" y="844">2</text>
<use href="#k7" x="447" y="826"/><text x="468" y="834">3</text><text x="468" y="844">7</text>
<use href="#k8" x="480" y="826"/><text x="501" y="834">2</text><text x="501" y="844">8</text>
<use href="#k1" x="509" y="826"/><text x="530" y="834">5</text><text x="530" y="844">1</text>
<use href="#k6" x="544" y="826"/><text x="565" y="834">6</text><text x="565" y="844">6</text>
<use href="#k3" x="577" y="826"/><text x="598" y="834">7</text><text x="598" y="844">3</text>
<use href="#k4" x="609" y="826"/><text x="630" y="834">8</text><text x="630" y="844">4</text>
<use href="#k5" x="641" y="826"/><text x="662" y="834">4</text><text x="662" y="844">5</text>
</g>
<g id="captions"><text class="cap" x="662" y="475">(a)</text><text class="cap" x="353" y="862">(b)</text><text class="cap" x="962" y="825">(c)</text></g>
<g id="wavelength-table" class="tb">
<path d="M718 509H1218M718 538H1218M718 568H1218M718 597H1218M718 627H1218M718 656.500H1218M718 685H1218M718 715H1218M718 745H1218M718 775H1218M718 804H1218M718 509V804M769 509V804M820 509V804M870 509V804M921 509V804M971 509V804M1022 509V804M1073 509V804M1123 509V804M1174 509V804" fill="none" stroke="#666" stroke-width="1.200"/>
<g><text x="794" y="521" textLength="27" lengthAdjust="spacingAndGlyphs">PON</text><text x="794" y="531">1</text><text x="845" y="521" textLength="27" lengthAdjust="spacingAndGlyphs">PON</text><text x="845" y="531">2</text><text x="896" y="521" textLength="27" lengthAdjust="spacingAndGlyphs">PON</text><text x="896" y="531">3</text><text x="946" y="521" textLength="27" lengthAdjust="spacingAndGlyphs">PON</text><text x="946" y="531">4</text><text x="996" y="521" textLength="27" lengthAdjust="spacingAndGlyphs">PON</text><text x="996" y="531">5</text><text x="1047" y="521" textLength="27" lengthAdjust="spacingAndGlyphs">PON</text><text x="1047" y="531">6</text><text x="1097" y="521" textLength="27" lengthAdjust="spacingAndGlyphs">PON</text><text x="1097" y="531">7</text><text x="1148" y="521" textLength="27" lengthAdjust="spacingAndGlyphs">PON</text><text x="1148" y="531">8</text><text x="1198" y="526" textLength="25" lengthAdjust="spacingAndGlyphs">OLT</text>
<text x="744" y="552" textLength="27" lengthAdjust="spacingAndGlyphs">PON</text><text x="744" y="562">1</text><text x="744" y="581" textLength="27" lengthAdjust="spacingAndGlyphs">PON</text><text x="744" y="591">2</text><text x="744" y="611" textLength="27" lengthAdjust="spacingAndGlyphs">PON</text><text x="744" y="621">3</text><text x="744" y="640" textLength="27" lengthAdjust="spacingAndGlyphs">PON</text><text x="744" y="650">4</text><text x="744" y="670" textLength="27" lengthAdjust="spacingAndGlyphs">PON</text><text x="744" y="680">5</text><text x="744" y="699" textLength="27" lengthAdjust="spacingAndGlyphs">PON</text><text x="744" y="709">6</text><text x="744" y="729" textLength="27" lengthAdjust="spacingAndGlyphs">PON</text><text x="744" y="738">7</text><text x="744" y="758" textLength="27" lengthAdjust="spacingAndGlyphs">PON</text><text x="744" y="768">8</text><text x="743" y="792" textLength="25" lengthAdjust="spacingAndGlyphs">OLT</text></g>
<use href="#t4" x="828" y="538"/><text class="s" x="855" y="564">4</text><use href="#t3" x="876" y="538"/><text class="s" x="903" y="564">3</text><use href="#t2" x="928" y="538"/><text class="s" x="955" y="564">2</text><use href="#t8" x="979" y="538"/><text class="s" x="1006" y="564">8</text><use href="#t7" x="1028" y="538"/><text class="s" x="1057" y="564">7</text><use href="#t6" x="1079" y="538"/><text class="s" x="1103" y="564">6</text><use href="#t5" x="1133" y="538"/><text class="s" x="1160" y="564">5</text><use href="#t1" x="1181" y="538"/><text class="s" x="1206" y="564">1</text>
<use href="#t2" x="774" y="568"/><text class="s" x="801" y="594">2</text><use href="#t1" x="877" y="568"/><text class="s" x="902" y="594">1</text><use href="#t7" x="928" y="568"/><text class="s" x="957" y="594">7</text><use href="#t4" x="980" y="568"/><text class="s" x="1007" y="594">4</text><use href="#t6" x="1029" y="568"/><text class="s" x="1053" y="594">6</text><use href="#t5" x="1078" y="568"/><text class="s" x="1105" y="594">5</text><use href="#t3" x="1133" y="568"/><text class="s" x="1160" y="594">3</text><use href="#t8" x="1180" y="568"/><text class="s" x="1207" y="594">8</text>
<use href="#t5" x="773" y="599"/><text class="s" x="800" y="625">5</text><use href="#t3" x="826" y="599"/><text class="s" x="853" y="625">3</text><use href="#t8" x="928" y="599"/><text class="s" x="955" y="625">8</text><use href="#t1" x="979" y="599"/><text class="s" x="1004" y="625">1</text><use href="#t2" x="1030" y="599"/><text class="s" x="1057" y="625">2</text><use href="#t4" x="1079" y="599"/><text class="s" x="1106" y="625">4</text><use href="#t7" x="1129" y="599"/><text class="s" x="1158" y="625">7</text><use href="#t6" x="1182" y="599"/><text class="s" x="1206" y="625">6</text>
<use href="#t7" x="773" y="628"/><text class="s" x="802" y="654">7</text><use href="#t8" x="825" y="628"/><text class="s" x="852" y="654">8</text><use href="#t6" x="875" y="628"/><text class="s" x="899" y="654">6</text><use href="#t5" x="976" y="628"/><text class="s" x="1003" y="654">5</text><use href="#t3" x="1031" y="628"/><text class="s" x="1058" y="654">3</text><use href="#t2" x="1076" y="628"/><text class="s" x="1103" y="654">2</text><use href="#t1" x="1133" y="628"/><text class="s" x="1158" y="654">1</text><use href="#t4" x="1178" y="628"/><text class="s" x="1205" y="654">4</text>
<use href="#t8" x="773" y="657"/><text class="s" x="800" y="683">8</text><use href="#t2" x="826" y="657"/><text class="s" x="853" y="683">2</text><use href="#t5" x="876" y="657"/><text class="s" x="903" y="683">5</text><use href="#t1" x="930" y="657"/><text class="s" x="955" y="683">1</text><use href="#t4" x="1030" y="657"/><text class="s" x="1057" y="683">4</text><use href="#t7" x="1078" y="657"/><text class="s" x="1107" y="683">7</text><use href="#t6" x="1132" y="657"/><text class="s" x="1156" y="683">6</text><use href="#t3" x="1181" y="657"/><text class="s" x="1208" y="683">3</text>
<use href="#t1" x="774" y="687"/><text class="s" x="799" y="713">1</text><use href="#t7" x="824" y="687"/><text class="s" x="853" y="713">7</text><use href="#t4" x="877" y="687"/><text class="s" x="904" y="713">4</text><use href="#t6" x="928" y="687"/><text class="s" x="952" y="713">6</text><use href="#t2" x="980" y="687"/><text class="s" x="1007" y="713">2</text><use href="#t3" x="1079" y="688"/><text class="s" x="1106" y="714">3</text><use href="#t8" x="1130" y="687"/><text class="s" x="1157" y="713">8</text><use href="#t5" x="1181" y="687"/><text class="s" x="1208" y="713">5</text>
<use href="#t6" x="774" y="716"/><text class="s" x="798" y="742">6</text><use href="#t5" x="826" y="716"/><text class="s" x="853" y="742">5</text><use href="#t8" x="876" y="716"/><text class="s" x="903" y="742">8</text><use href="#t3" x="928" y="716"/><text class="s" x="955" y="742">3</text><use href="#t7" x="976" y="716"/><text class="s" x="1005" y="742">7</text><use href="#t1" x="1031" y="716"/><text class="s" x="1056" y="742">1</text><use href="#t4" x="1131" y="717"/><text class="s" x="1158" y="743">4</text><use href="#t2" x="1182" y="717"/><text class="s" x="1209" y="743">2</text>
<use href="#t3" x="774" y="747"/><text class="s" x="801" y="773">3</text><use href="#t1" x="827" y="747"/><text class="s" x="852" y="773">1</text><use href="#t2" x="877" y="747"/><text class="s" x="904" y="773">2</text><use href="#t4" x="928" y="747"/><text class="s" x="955" y="773">4</text><use href="#t6" x="980" y="747"/><text class="s" x="1004" y="773">6</text><use href="#t5" x="1030" y="747"/><text class="s" x="1057" y="773">5</text><use href="#t8" x="1079" y="746"/><text class="s" x="1106" y="772">8</text><use href="#t7" x="1180" y="746"/><text class="s" x="1209" y="772">7</text>
<use href="#t4" x="774" y="776"/><text class="s" x="801" y="802">4</text><use href="#t6" x="826" y="776"/><text class="s" x="850" y="802">6</text><use href="#t7" x="877" y="776"/><text class="s" x="906" y="802">7</text><use href="#t5" x="928" y="776"/><text class="s" x="955" y="802">5</text><use href="#t3" x="979" y="776"/><text class="s" x="1006" y="802">3</text><use href="#t8" x="1031" y="776"/><text class="s" x="1058" y="802">8</text><use href="#t1" x="1082" y="775"/><text class="s" x="1107" y="801">1</text><use href="#t2" x="1130" y="776"/><text class="s" x="1157" y="802">2</text>
</g>
</svg>
